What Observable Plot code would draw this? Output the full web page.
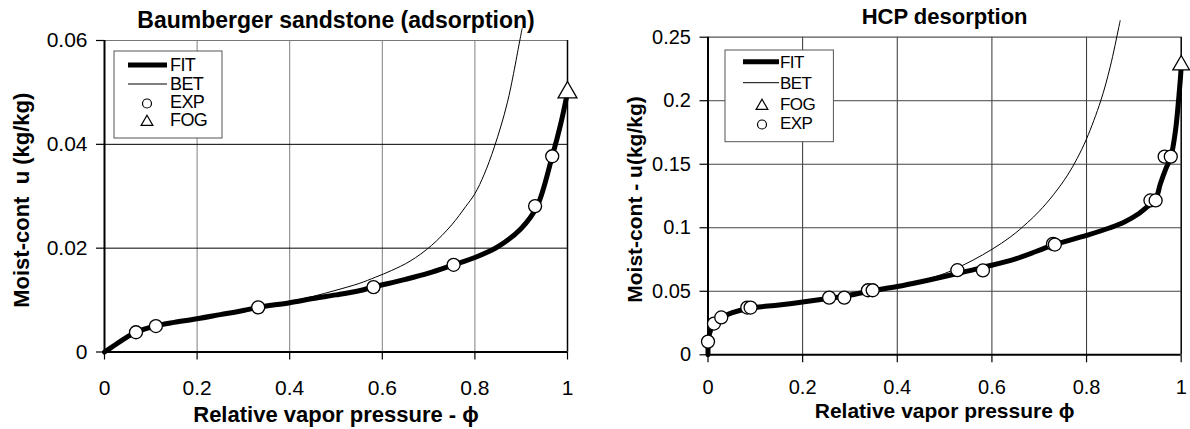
<!DOCTYPE html>
<html><head><meta charset="utf-8">
<script src="https://cdn.jsdelivr.net/npm/d3@7"></script>
<script src="https://cdn.jsdelivr.net/npm/@observablehq/plot@0.6"></script>
<style>
body{margin:0;background:#fff;}
#wrap{position:relative;width:1190px;height:429px;overflow:hidden;}
.panel{position:absolute;top:0;width:595px;height:429px;}
</style></head><body>
<div id="wrap"><div id="left" class="panel" style="left:0"></div><div id="right" class="panel" style="left:595px"></div></div>
<script>
// ---------- data ----------
const xTicks = [0, 0.2, 0.4, 0.6, 0.8, 1];
const leftYTicks = [0, 0.02, 0.04, 0.06];
const rightYTicks = [0, 0.05, 0.1, 0.15, 0.2, 0.25];

const leftTitle = "Baumberger sandstone (adsorption)";
const leftXLabel = "Relative vapor pressure - \u03D5";
const leftYLabel = "Moist-cont  u (kg/kg)";
const rightTitle = "HCP desorption";
const rightXLabel = "Relative vapor pressure \u03D5";
const rightYLabel = "Moist-cont - u(kg/kg)";

const leftLegend = ["FIT", "BET", "EXP", "FOG"];
const rightLegend = ["FIT", "BET", "FOG", "EXP"];

// Baumberger sandstone (adsorption)
const leftFit = [
  [0, 0], [0.02, 0.0012], [0.04, 0.0024], [0.068, 0.0038], [0.11, 0.005],
  [0.15, 0.0057], [0.2, 0.0064], [0.25, 0.0072], [0.3, 0.008], [0.332, 0.0086],
  [0.4, 0.0095], [0.45, 0.0103], [0.5, 0.011], [0.55, 0.0118], [0.58, 0.0125],
  [0.65, 0.014], [0.7, 0.0152], [0.754, 0.0168], [0.8, 0.0182], [0.85, 0.0203],
  [0.9, 0.0238], [0.934, 0.028], [0.967, 0.0377], [0.985, 0.0438], [1.0, 0.05]
];
const leftBet = [
  [0, 0], [0.068, 0.0038], [0.11, 0.005], [0.2, 0.0064], [0.33, 0.0086],
  [0.4, 0.0097], [0.45, 0.0107], [0.5, 0.0119], [0.55, 0.0132], [0.585, 0.0144],
  [0.62, 0.0157], [0.66, 0.0175], [0.706, 0.0205], [0.75, 0.0245], [0.78, 0.028],
  [0.8, 0.0305], [0.82, 0.0342], [0.842, 0.0395], [0.87, 0.048], [0.897, 0.06], [0.902, 0.0623]
];
const leftExp = [
  [0.068, 0.0038], [0.111, 0.005], [0.332, 0.0086], [0.581, 0.0125],
  [0.754, 0.0168], [0.93, 0.0281], [0.967, 0.0377]
];
const leftFog = [[1.0, 0.05]];

// HCP desorption
const rightFit = [
  [0, 0], [0.001, 0.012], [0.006, 0.02], [0.0126, 0.0246], [0.028, 0.0292],
  [0.05, 0.033], [0.086, 0.0365], [0.15, 0.0392], [0.2, 0.0415], [0.257, 0.0445],
  [0.29, 0.0462], [0.343, 0.0502], [0.4, 0.0537], [0.45, 0.0575], [0.527, 0.064],
  [0.581, 0.0688], [0.65, 0.0755], [0.731, 0.0865], [0.8, 0.094], [0.85, 0.1],
  [0.88, 0.1045], [0.91, 0.111], [0.93, 0.117], [0.946, 0.1225], [0.956, 0.1346],
  [0.967, 0.146], [0.978, 0.1556], [0.988, 0.1766], [0.995, 0.203], [0.999, 0.221], [1.0, 0.228]
];
const rightBet = [
  [0, 0], [0.006, 0.02], [0.03, 0.0295], [0.086, 0.0365], [0.2, 0.0415],
  [0.3, 0.0467], [0.4, 0.0538], [0.45, 0.0582], [0.5, 0.064], [0.53, 0.069],
  [0.56, 0.0745], [0.6, 0.083], [0.64, 0.093], [0.675, 0.104], [0.7, 0.113],
  [0.73, 0.126], [0.76, 0.1415], [0.78, 0.1545], [0.8, 0.17], [0.83, 0.2],
  [0.85, 0.2267], [0.868, 0.2576], [0.871, 0.263]
];
const rightExp = [
  [0, 0.0104], [0.0126, 0.0246], [0.028, 0.0294], [0.083, 0.0372], [0.09, 0.0372],
  [0.256, 0.045], [0.288, 0.045], [0.338, 0.0508], [0.348, 0.0508],
  [0.527, 0.0666], [0.581, 0.0664], [0.729, 0.0873], [0.733, 0.0868],
  [0.935, 0.1215], [0.946, 0.1215], [0.965, 0.156], [0.978, 0.156]
];
const rightFog = [[1.0, 0.228]];

// ---------- drawing ----------
const FONT = "'Liberation Sans', Arial, Helvetica, sans-serif";
const fmt = d => String(d);

function panel(cfg) {
  const W = 595, H = 429;
  const plot = Plot.plot({
    width: W, height: H,
    marginLeft: cfg.ml, marginRight: cfg.mr, marginTop: cfg.mt, marginBottom: cfg.mb,
    style: {fontFamily: FONT, fontSize: cfg.tickFont + "px", color: "#000", background: "#fff", overflow: "visible", maxWidth: "none"},
    x: {domain: [0, 1]},
    y: {domain: [0, cfg.yTicks[cfg.yTicks.length - 1]]},
    marks: [
      Plot.ruleX(xTicks.slice(1, -1), {stroke: cfg.vGrid, strokeWidth: 1}),
      Plot.ruleY(cfg.yTicks.slice(1, -1), {stroke: cfg.hGrid, strokeWidth: 1}),
      Plot.ruleY(cfg.yTicks.slice(-1), {stroke: cfg.topColor, strokeWidth: 1.2}),
      Plot.ruleX([1], {stroke: "#000", strokeWidth: 1.5}),
      Plot.axisX(xTicks, {tickSize: 8, tickPadding: cfg.xPad, tickFormat: fmt, fontSize: cfg.tickFont, label: null, strokeWidth: 1.2}),
      Plot.axisY(cfg.yTicks, {tickSize: 8, tickPadding: 9, tickFormat: fmt, fontSize: cfg.tickFont, label: null, strokeWidth: 1.2}),
      Plot.ruleX([0], {stroke: "#000", strokeWidth: 2}),
      Plot.ruleY([0], {stroke: "#000", strokeWidth: 2}),
      Plot.line(cfg.bet, {x: d => d[0], y: d => d[1], stroke: "#000", strokeWidth: 1, curve: "catmull-rom"}),
      Plot.line(cfg.fit, {x: d => d[0], y: d => d[1], stroke: "#000", strokeWidth: 5, curve: "catmull-rom"}),
      Plot.dot(cfg.exp, {x: d => d[0], y: d => d[1], r: 6.5, fill: "#fff", stroke: "#000", strokeWidth: 1.3}),
      Plot.dot(cfg.fog, {x: d => d[0], y: d => d[1], r: cfg.triR, symbol: "triangle", fill: "#fff", stroke: "#000", strokeWidth: 1.3}),
      Plot.text([cfg.title], {frameAnchor: "top", lineAnchor: "middle", textAnchor: "middle", dy: cfg.titleDy, fontSize: cfg.titleFont, fontWeight: "bold", fill: "#000"}),
      Plot.text([cfg.xLabel], {frameAnchor: "bottom", lineAnchor: "middle", textAnchor: "middle", dy: cfg.xLabelDy, fontSize: cfg.labelFont, fontWeight: "bold", fill: "#000"}),
      Plot.text([cfg.yLabel], {frameAnchor: "left", lineAnchor: "middle", textAnchor: "middle", dx: cfg.yLabelDx, dy: cfg.yLabelDy, rotate: -90, fontSize: cfg.labelFont, fontWeight: "bold", fill: "#000"})
    ]
  });
  // legend
  const L = cfg.legend;
  const svg = d3.select(plot);
  const g = svg.append("g").attr("font-family", FONT).attr("font-size", L.font).attr("letter-spacing", L.ls).attr("text-anchor", "start");
  g.append("rect").attr("x", L.x0).attr("y", L.y0).attr("width", L.x1 - L.x0).attr("height", L.y1 - L.y0)
    .attr("fill", "#fff").attr("stroke", "#555").attr("stroke-width", 1);
  cfg.legendNames.forEach((name, i) => {
    const y = L.rows[i];
    if (name === "FIT" || name === "BET") {
      g.append("line").attr("x1", L.lx0).attr("x2", L.lx1).attr("y1", y).attr("y2", y)
        .attr("stroke", "#000").attr("stroke-width", name === "FIT" ? 5 : 1);
    } else if (name === "EXP") {
      g.append("circle").attr("cx", L.sx).attr("cy", y + 1.5).attr("r", 4.5).attr("fill", "#fff").attr("stroke", "#000").attr("stroke-width", 1.2);
    } else {
      g.append("path").attr("d", d3.symbol(d3.symbolTriangle, 60)()).attr("transform", `translate(${L.sx},${y + 2})`)
        .attr("fill", "#fff").attr("stroke", "#000").attr("stroke-width", 1.2);
    }
    g.append("text").attr("x", L.tx).attr("y", y).attr("dy", "0.35em").attr("text-anchor", "start").text(name);
  });
  return plot;
}

document.getElementById("left").append(panel({
  ml: 104, mr: 28, mt: 40, mb: 77.5,
  yTicks: leftYTicks, fit: leftFit, bet: leftBet, exp: leftExp, fog: leftFog,
  vGrid: "#808080", hGrid: "#000", topColor: "#777",
  tickFont: 21, xPad: 20, triR: 7,
  title: leftTitle, titleFont: 23, titleDy: -20,
  xLabel: leftXLabel, labelFont: 22, xLabelDy: 63,
  yLabel: leftYLabel, yLabelDx: -83, yLabelDy: 4,
  legendNames: leftLegend,
  legend: {x0: 114, x1: 222, y0: 51, y1: 138, lx0: 128, lx1: 167, sx: 147, tx: 170, rows: [65, 84, 102, 120], font: 18, ls: -0.6}
}));

document.getElementById("right").append(panel({
  ml: 112.5, mr: 9.3, mt: 36.7, mb: 74.7,
  yTicks: rightYTicks, fit: rightFit, bet: rightBet, exp: rightExp, fog: rightFog,
  vGrid: "#333", hGrid: "#444", topColor: "#555",
  tickFont: 20, xPad: 17, triR: 6.2,
  title: rightTitle, titleFont: 22, titleDy: -20,
  xLabel: rightXLabel, labelFont: 21, xLabelDy: 56.5,
  yLabel: rightYLabel, yLabelDx: -72.5, yLabelDy: 3.5,
  legendNames: rightLegend,
  legend: {x0: 725 - 595, x1: 833.4 - 595, y0: 50, y1: 141.7, lx0: 743 - 595, lx1: 779 - 595, sx: 762 - 595, tx: 780 - 595, rows: [61.7, 82.7, 104, 123], font: 17, ls: -0.6}
}));
</script>
</body></html>
